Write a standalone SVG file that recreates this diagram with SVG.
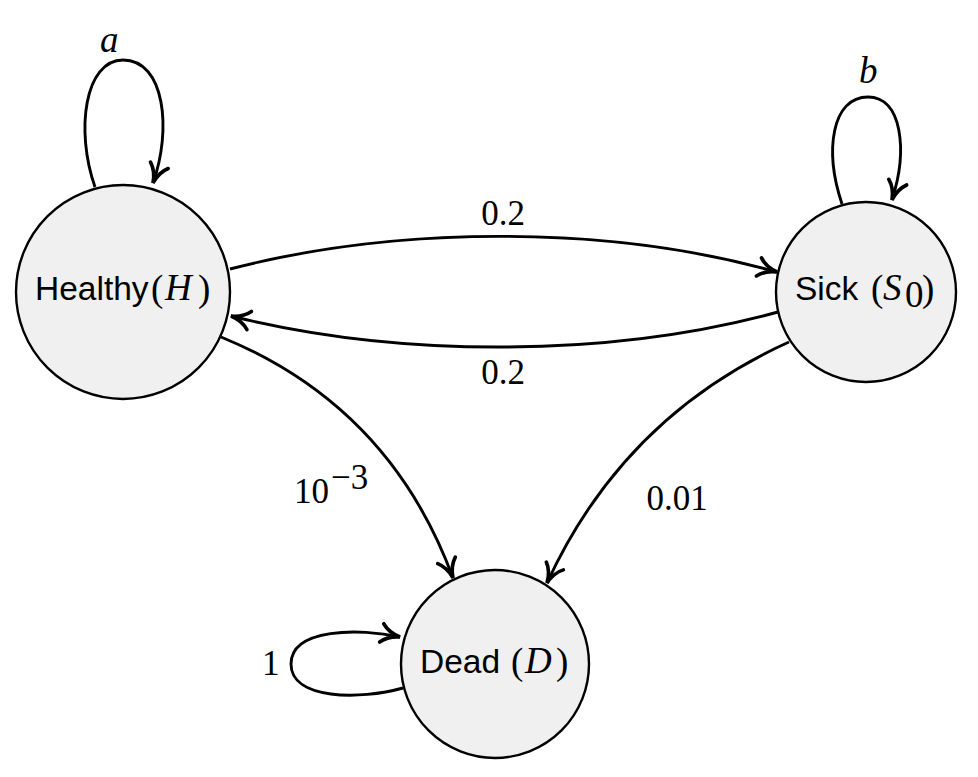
<svg xmlns="http://www.w3.org/2000/svg" width="978" height="777" viewBox="0 0 978 777">
<style>
.node{fill:#f0f0f0;stroke:#000;stroke-width:2.4}
.lbl{font-family:"Liberation Sans","DejaVu Sans",sans-serif;font-size:33.5px;fill:#000}
.m{font-family:"Liberation Serif","DejaVu Serif",serif;font-size:37px;fill:#000}
.mi{font-family:"Liberation Serif","DejaVu Serif",serif;font-size:37px;font-style:italic;fill:#000}
.el{font-family:"Liberation Serif","DejaVu Serif",serif;font-size:35px;fill:#000}
.edge{fill:none;stroke:#000;stroke-width:2.9;marker-end:url(#arr)}
</style>
<defs>
<marker id="arr" markerUnits="userSpaceOnUse" orient="auto" refX="0" refY="0" markerWidth="30" markerHeight="30" viewBox="-20 -10 24 20" overflow="visible">
<path d="M -15,-7.5 C -10.5,-2.5 -4,-0.6 0,0 C -4,0.6 -10.5,2.5 -15,7.5" fill="none" stroke="#000" stroke-width="2.9" stroke-linecap="round"/>
</marker>
</defs>
<g id="edges">
<path class="edge" d="M95,187 C 75,130 85,60 123,60 C 165,60 172,130 153,183"/>
<path class="edge" d="M842,204 C 824,150 832,97 868,97 C 902,97 908,150 892,200"/>
<path class="edge" d="M403,688 C 360,700 291,700 291,664 C 291,628 360,628 400,637"/>
<path class="edge" d="M230,269 C 400,225 610,225 777,272"/>
<path class="edge" d="M778,312 C 610,358 400,358 231,316"/>
<path class="edge" d="M221,337 C 333.6,383 411,464 453,578"/>
<path class="edge" d="M789,342 C 678,392 598,472 547,583"/>
<text class="mi" x="100" y="52">a</text>
<text class="mi" x="859" y="83">b</text>
<text class="el" x="262" y="675">1</text>
<text class="el" x="503" y="225" text-anchor="middle">0.2</text>
<text class="el" x="503" y="384" text-anchor="middle">0.2</text>
<text class="el" x="294" y="503">10</text>
<text class="el" x="331" y="489" font-size="26">−3</text>
<text class="el" x="677" y="510" text-anchor="middle">0.01</text>
</g>
<g id="healthy">
<circle class="node" cx="123" cy="292" r="107"/>
<text class="lbl" x="35" y="300">Healthy</text>
<text class="m" x="151" y="301">(</text>
<text class="mi" x="165" y="300">H</text>
<text class="m" x="198" y="301">)</text>
</g>
<g id="sick">
<circle class="node" cx="866" cy="292" r="90"/>
<text class="lbl" x="795" y="300">Sick</text>
<text class="m" x="871" y="301">(</text>
<text class="mi" x="883" y="300">S</text>
<text class="m" x="905" y="307" font-size="26">0</text>
<text class="m" x="922" y="301">)</text>
</g>
<g id="dead">
<circle class="node" cx="495" cy="664" r="94"/>
<text class="lbl" x="420" y="673">Dead</text>
<text class="m" x="511" y="674">(</text>
<text class="mi" x="525" y="673">D</text>
<text class="m" x="556" y="674">)</text>
</g>
</svg>
